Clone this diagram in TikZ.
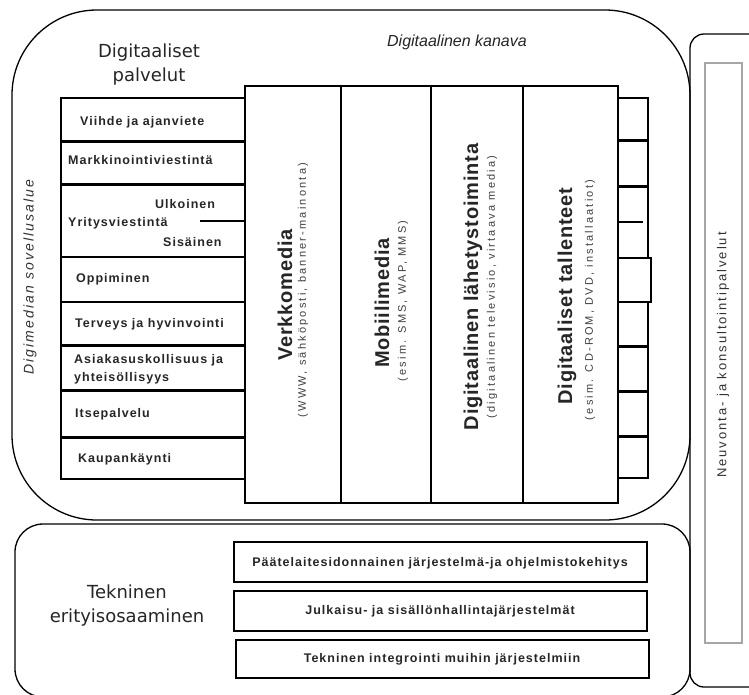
\documentclass[tikz,border=0pt]{standalone}
\usepackage{fontspec}
\setmainfont{Liberation Sans}
\newfontfamily\hdfont{DejaVu Sans}
\newfontfamily\rowfont[LetterSpace=8]{Liberation Sans}
\newfontfamily\subfont[LetterSpace=20]{Liberation Sans}
\newfontfamily\ttlfont[LetterSpace=4]{Liberation Sans}
\newfontfamily\sidefont[LetterSpace=15]{Liberation Sans}
\tikzset{
  frame/.style={draw=black, line width=1.3pt},
  thickrule/.style={draw=black, line width=3pt},
  thinrule/.style={draw=black, line width=1.3pt},
  rowtxt/.style={inner sep=0pt, anchor=west, text=black!85, font=\rowfont\bfseries\fontsize{12.5}{18}\selectfont},
  boxtxt/.style={inner sep=0pt, text=black!85, font=\rowfont\bfseries\fontsize{12.5}{18}\selectfont},
  headtxt/.style={inner sep=0pt, align=center, text=black!85, font=\hdfont\fontsize{18}{24}\selectfont},
  coltitle/.style={inner sep=0pt, rotate=90, text=black!85, font=\ttlfont\bfseries\fontsize{20}{24}\selectfont},
  colsub/.style={inner sep=0pt, rotate=90, text=black!75, font=\subfont\fontsize{11}{13}\selectfont},
  sidetxt/.style={inner sep=0pt, rotate=90, text=black!80, font=\sidefont\fontsize{13}{16}\selectfont},
}
\begin{document}
\begin{tikzpicture}[x=1pt,y=-1pt]
\useasboundingbox (0,0) rectangle (749,694);
\clip (0,0) rectangle (749,694);
\fill[white] (0,0) rectangle (749,694);

% outer frames
\draw[frame, rounded corners=85pt] (12,10) rectangle (690,520);
\draw[frame, rounded corners=28pt] (15,524) rectangle (690,697);
\draw[frame, rounded corners=14pt] (690,34) rectangle (775,687);
\draw[draw=gray!70, line width=2pt] (705,63) rectangle (742,643);

% headers
\node[headtxt] (dp) at (149,65) {Digitaaliset\\palvelut};
\node[inner sep=0pt, text=black!85, font=\itshape\fontsize{16}{18}\selectfont] (dk) at (457,42) {Digitaalinen kanava};
\node[sidetxt, font=\sidefont\itshape\fontsize{14}{16}\selectfont] (ds) at (30,277) {Digimedian sovellusalue};
\node[headtxt] (te) at (127,606) {Tekninen\\erityisosaaminen};
\node[sidetxt] (nk) at (723,355) {Neuvonta- ja konsultointipalvelut};

% rows on the left
\draw[frame] (61,98) rectangle (245,479);
\draw[thickrule] (61,141) -- (245,141);
\draw[thickrule] (61,184) -- (245,184);
\draw[thinrule] (61,257) -- (245,257);
\draw[thinrule] (61,302) -- (245,302);
\draw[thickrule] (61,345) -- (245,345);
\draw[thickrule] (61,390) -- (245,390);
\draw[thickrule] (61,437) -- (245,437);
\coordinate (ydiv) at (200,221);
\coordinate (ydive) at (245,221);
\draw[thinrule] (ydiv) -- (ydive);

\node[rowtxt] (r1) at (80,122) {Viihde ja ajanviete};
\node[rowtxt] (r2) at (68,160) {Markkinointiviestintä};
\node[rowtxt] (r3a) at (155,204) {Ulkoinen};
\node[rowtxt] (r3) at (68,223) {Yritysviestintä};
\node[rowtxt] (r3b) at (163,242) {Sisäinen};
\node[rowtxt] (r4) at (76,279) {Oppiminen};
\node[rowtxt] (r5) at (75,324) {Terveys ja hyvinvointi};
\node[rowtxt, align=left] (r6) at (74,369) {Asiakasuskollisuus ja\\yhteisöllisyys};
\node[rowtxt] (r7) at (75,414) {Itsepalvelu};
\node[rowtxt] (r8) at (78,459) {Kaupankäynti};

% right small column
\draw[frame] (618,98) -- (648,98) -- (648,258) -- (651,258) -- (651,302) -- (648,302) -- (648,478) -- (618,478);
\draw[thickrule] (618,140) -- (648,140);
\draw[thickrule] (618,186) -- (648,186);
\draw[thinrule] (618,222) -- (643,222);
\draw[thinrule] (618,258) -- (648,258);
\draw[thinrule] (618,302) -- (648,302);
\draw[thickrule] (618,346) -- (648,346);
\draw[thickrule] (618,391) -- (648,391);
\draw[thickrule] (618,436) -- (648,436);

% channel columns
\draw[frame, fill=white] (245,86) rectangle (618,503);
\draw[frame] (341,86) -- (341,503);
\draw[frame] (431,86) -- (431,503);
\draw[frame] (523,86) -- (523,503);

\node[coltitle] (c1t) at (285,295) {Verkkomedia};
\node[colsub] (c1s) at (303,290) {(WWW, sähköposti, banner-mainonta)};
\node[coltitle] (c2t) at (382,303) {Mobiilimedia};
\node[colsub] (c2s) at (403,301) {(esim. SMS, WAP, MMS)};
\node[coltitle] (c3t) at (473,287) {Digitaalinen lähetystoiminta};
\node[colsub] (c3s) at (492,287) {(digitaalinen televisio, virtaava media)};
\node[coltitle] (c4t) at (567,296) {Digitaaliset tallenteet};
\node[colsub] (c4s) at (590,300) {(esim. CD-ROM, DVD, installaatiot)};

% technical boxes
\draw[frame] (234,542) rectangle (647,582);
\draw[frame] (234,591) rectangle (647,631);
\draw[frame] (236,640) rectangle (649,678);
\node[boxtxt] (b1) at (440,563) {Päätelaitesidonnainen järjestelmä-ja ohjelmistokehitys};
\node[boxtxt] (b2) at (440,611) {Julkaisu- ja sisällönhallintajärjestelmät};
\node[boxtxt] (b3) at (442,659) {Tekninen integrointi muihin järjestelmiin};
\end{tikzpicture}
\end{document}
